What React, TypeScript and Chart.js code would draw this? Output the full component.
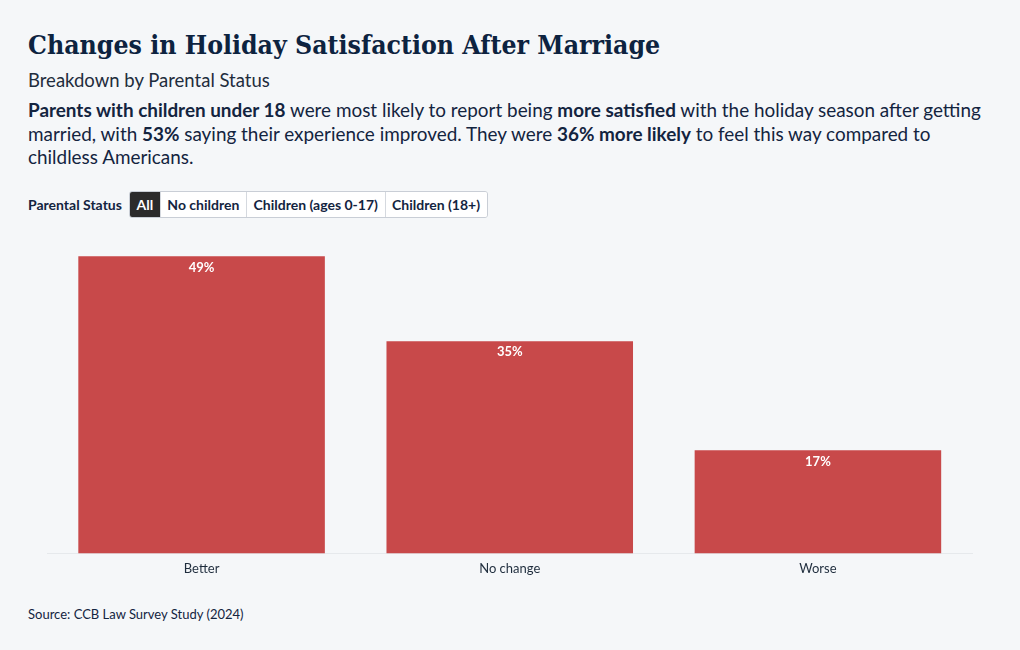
import React, { useEffect, useRef } from "react";
import { Chart, registerables } from "chart.js";

Chart.register(...registerables);

const categories = ["Better", "No change", "Worse"];
const values = [49, 35, 17];
const filterOptions = ["All", "No children", "Children (ages 0-17)", "Children (18+)"];

const SANS = "Lato, 'Noto Sans', sans-serif";
const SERIF = "'DejaVu Serif Condensed', 'Liberation Serif', serif";
const BAR = "#c8494a";

const valueLabels = {
  id: "valueLabels",
  afterDatasetsDraw(chart: any) {
    const ctx = chart.ctx;
    const meta = chart.getDatasetMeta(0);
    ctx.save();
    ctx.fillStyle = "#ffffff";
    ctx.font = `bold 13px ${SANS}`;
    ctx.textAlign = "center";
    ctx.textBaseline = "middle";
    meta.data.forEach((bar: any, i: number) => {
      ctx.fillText(values[i] + "%", bar.x, bar.y + 11);
    });
    ctx.restore();
  },
};

export default function App() {
  const ref = useRef<HTMLCanvasElement | null>(null);
  useEffect(() => {
    document.body.style.margin = "0";
    const chart = new Chart(ref.current as HTMLCanvasElement, {
      type: "bar",
      data: {
        labels: categories,
        datasets: [
          {
            data: values,
            backgroundColor: BAR,
            barPercentage: 0.8,
            categoryPercentage: 1,
          },
        ],
      },
      options: {
        animation: false,
        responsive: false,
        maintainAspectRatio: false,
        layout: { padding: { left: 47.5, right: 48, top: 0, bottom: 0 } },
        plugins: { legend: { display: false }, tooltip: { enabled: false } },
        scales: {
          x: {
            grid: { display: false, drawTicks: false },
            border: { display: true, color: "#e6e9ec" },
            ticks: { color: "#1f2d3d", font: { family: SANS, size: 13 }, padding: 8 },
          },
          y: {
            display: false,
            min: 0,
            max: 55,
          },
        },
      },
      plugins: [valueLabels],
    });
    return () => chart.destroy();
  }, []);

  return (
    <div
      style={{
        position: "relative",
        width: 1020,
        height: 650,
        background: "#f5f7f9",
        fontFamily: SANS,
        color: "#13243f",
        overflow: "hidden",
      }}
    >
      <div
        style={{
          position: "absolute",
          left: 28,
          top: 29,
          fontFamily: SERIF,
          fontWeight: 700,
          fontSize: 26.4,
          color: "#0d2340",
          whiteSpace: "nowrap",
        }}
      >
        Changes in Holiday Satisfaction After Marriage
      </div>
      <div style={{ position: "absolute", left: 28, top: 69, fontSize: 18.5, color: "#1f2d3d", whiteSpace: "nowrap" }}>
        Breakdown by Parental Status
      </div>
      <div
        style={{
          position: "absolute",
          left: 28,
          top: 98,
          fontSize: 18.9,
          lineHeight: "23.5px",
          color: "#13243f",
          whiteSpace: "nowrap",
        }}
      >
        <b>Parents with children under 18</b> were most likely to report being <b>more satisfied</b> with the holiday season after getting
        <br />
        married, with <b>53%</b> saying their experience improved. They were <b>36% more likely</b> to feel this way compared to
        <br />
        childless Americans.
      </div>
      <div style={{ position: "absolute", left: 28, top: 191, height: 27, display: "flex", alignItems: "center" }}>
        <span style={{ fontSize: 14, fontWeight: 700, color: "#13243f", marginRight: 7 }}>Parental Status</span>
        <div style={{ display: "flex", height: 27, border: "1px solid #c9ced6", borderRadius: 3, overflow: "hidden", boxSizing: "border-box" }}>
          {filterOptions.map((o, i) => (
            <div
              key={o}
              style={{
                padding: "0 6.6px",
                display: "flex",
                alignItems: "center",
                fontSize: 14,
                fontWeight: 700,
                background: i === 0 ? "#2b2b2b" : "#ffffff",
                color: i === 0 ? "#ffffff" : "#13243f",
                borderLeft: i > 0 ? "1px solid #d5d9df" : "none",
              }}
            >
              {o}
            </div>
          ))}
        </div>
      </div>
      <canvas
        ref={ref}
        width={1020}
        height={365}
        style={{ position: "absolute", left: 0, top: 220, width: 1020, height: 365 }}
      />
      <div style={{ position: "absolute", left: 28, top: 606, fontSize: 13, color: "#13243f" }}>
        Source: CCB Law Survey Study (2024)
      </div>
    </div>
  );
}
